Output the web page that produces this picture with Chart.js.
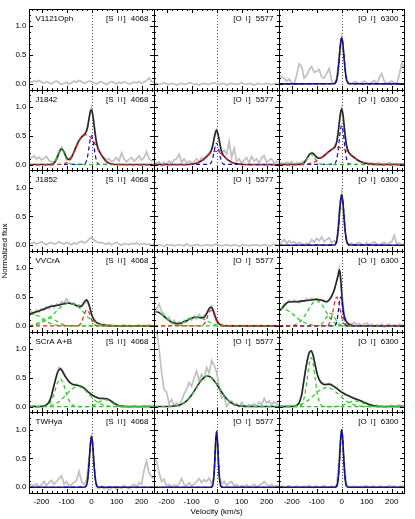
<!DOCTYPE html>
<html><head><meta charset="utf-8">
<script src="https://cdn.jsdelivr.net/npm/chart.js@4.4.0/dist/chart.umd.min.js"></script>
<style>html,body{margin:0;padding:0;background:#fff;}canvas{display:block;}</style>
</head><body><canvas id="c" width="415" height="519"></canvas>
<script>
// ---------------- DATA ----------------
const objectNames = ['V1121Oph', 'J1842', 'J1852', 'VVCrA', 'SCrA A+B', 'TWHya'];
const lineIons   = ['S', 'O', 'O'];
const lineStages = ['II', 'I', 'I'];
const lineWaves  = ['4068', '5577', '6300'];
const xTickValues = [-200, -100, 0, 100, 200];
const yTickValues = [0, 0.5, 1.0];

const velGrid = [-250,-240,-230,-220,-210,-200,-190,-180,-170,-160,
 -150,-140,-130,-120,-110,-100,-90,-80,-70,-60,
 -50,-40,-30,-20,-10,0,10,20,30,40,
 50,60,70,80,90,100,110,120,130,140,
 150,160,170,180,190,200,210,220,230,240,250];

// observed spectra (grey), on velGrid
const obs_V1121Oph_SII = [0.04,0.03,0.05,0.04,0.06,0.03,0.01,0.04,0.02,0.00, 0.03,0.05,0.02,-0.01,0.01,0.03,0.00,0.02,0.05,0.03, 0.06,0.04,0.01,0.03,0.05,0.04,0.02,0.00,0.03,0.04, 0.01,-0.01,0.02,0.04,0.02,0.00,0.03,0.01,0.04,0.02, 0.00,0.01,0.03,0.02,0.04,0.01,0.03,0.06,0.10,0.04, 0.03];
const obs_V1121Oph_5577 = [0.00,0.01,-0.01,0.00,0.02,0.00,-0.01,0.01,0.00,-0.02, 0.00,0.01,-0.01,0.00,0.02,0.01,-0.01,0.00,-0.02,0.00, 0.01,0.00,-0.01,0.01,0.02,0.00,-0.01,0.00,0.01,-0.02, 0.00,0.01,0.00,-0.01,0.00,0.02,0.00,-0.01,0.01,0.00, -0.02,0.00,0.01,-0.01,0.00,0.01,0.00,-0.01,0.00,0.01, 0.00];
const obs_V1121Oph_6300 = [0.15,0.12,0.10,0.05,0.08,0.02,0.00,0.15,0.35,0.30, 0.10,0.15,0.25,0.30,0.20,0.22,0.25,0.12,0.10,0.18, 0.27,0.05,0.00,0.10,0.50,0.80,0.45,0.05,0.02,0.00, 0.04,0.03,0.00,0.02,0.05,0.02,0.00,0.03,0.06,0.00, 0.10,0.18,0.05,0.00,0.03,0.05,0.02,0.00,0.15,0.36, 0.30];
const obs_J1842_SII = [0.10,0.12,0.15,0.10,0.13,0.08,0.11,0.14,0.07,0.05, 0.04,0.12,0.24,0.30,0.20,0.12,0.10,0.15,0.22,0.30, 0.40,0.47,0.52,0.58,0.80,0.98,0.72,0.40,0.25,0.18, 0.12,0.08,0.10,0.05,0.08,0.12,0.06,0.20,0.10,0.05, 0.09,0.12,0.06,0.10,0.15,0.08,0.12,0.22,0.10,0.06, 0.08];
const obs_J1842_5577 = [0.04,0.02,0.05,-0.02,0.04,0.00,0.06,0.02,0.08,0.10, 0.18,0.04,0.10,0.03,0.06,0.02,0.05,0.10,0.04,0.12, 0.08,0.15,0.20,0.25,0.45,0.60,0.42,0.20,0.25,0.18, 0.40,0.12,0.28,0.05,0.10,0.02,0.08,0.12,0.03,0.14, 0.06,0.10,0.02,0.12,0.15,0.04,0.08,0.10,0.03,0.06, 0.04];
const obs_J1842_6300 = [0.02,0.03,0.01,0.04,0.02,0.05,0.00,0.03,0.02,0.04, 0.06,0.10,0.18,0.21,0.18,0.14,0.12,0.12,0.15,0.19, 0.23,0.26,0.30,0.40,0.70,0.97,0.65,0.30,0.20,0.15, 0.14,0.08,0.06,0.05,0.03,0.04,0.02,0.03,0.01,0.02, 0.03,0.00,0.02,0.01,0.03,0.02,0.01,0.02,0.00,0.02, 0.01];
const obs_J1852_SII = [0.04,0.03,0.05,0.02,0.04,0.06,0.03,0.01,0.04,0.05, 0.02,0.03,0.06,0.04,0.02,0.05,0.03,0.01,0.04,0.02, 0.05,0.07,0.04,0.06,0.10,0.14,0.09,0.06,0.04,0.05, 0.03,0.02,0.04,0.01,0.03,0.05,0.02,0.00,0.03,0.02, 0.01,0.03,0.02,0.04,0.01,0.02,0.03,0.01,0.02,0.00, 0.02];
const obs_J1852_5577 = [0.00,-0.01,0.01,0.00,-0.02,0.01,0.00,0.01,-0.01,0.00, 0.01,0.00,-0.01,0.02,0.00,-0.01,0.00,0.01,0.00,-0.01, 0.00,0.01,0.00,-0.01,0.01,0.02,0.00,-0.01,0.00,0.01, 0.00,-0.01,0.01,0.00,-0.02,0.00,0.01,0.00,-0.01,0.01, 0.00,0.01,-0.01,0.00,0.01,0.00,-0.01,0.00,0.02,0.00, 0.01];
const obs_J1852_6300 = [0.02,0.05,0.10,0.03,0.08,0.04,0.06,0.02,0.05,0.03, 0.00,0.04,0.02,0.10,0.05,0.12,0.08,0.14,0.06,0.10, 0.13,0.04,0.08,0.05,0.60,0.92,0.35,0.05,0.02,0.04, 0.00,0.03,0.05,0.02,0.00,0.04,0.01,0.03,0.06,0.02, 0.00,0.03,0.05,0.01,0.04,0.06,0.17,0.02,0.04,0.00, 0.03];
const obs_VVCrA_SII = [0.22,0.25,0.20,0.28,0.24,0.30,0.27,0.33,0.30,0.36, 0.32,0.38,0.35,0.42,0.40,0.47,0.41,0.38,0.40,0.35, 0.37,0.33,0.38,0.42,0.36,0.20,0.12,0.06,0.05,0.02, 0.03,0.00,0.01,0.02,0.00,0.01,-0.01,0.00,0.02,0.00, 0.01,-0.01,0.01,0.00,0.02,0.00,0.01,0.00,0.02,0.00, 0.01];
const obs_VVCrA_5577 = [0.28,0.30,0.38,0.25,0.20,0.12,0.15,0.05,0.10,0.02, 0.07,0.00,0.10,0.06,0.14,0.10,0.17,0.12,0.20,0.15, 0.18,0.22,0.30,0.35,0.25,0.12,0.04,0.02,0.00,0.01, 0.00,0.01,0.00,-0.01,0.01,0.00,0.01,0.00,-0.01,0.01, 0.00,0.01,0.00,0.01,-0.01,0.00,0.01,0.00,0.01,0.00, 0.00];
const obs_VVCrA_6300 = [0.28,0.30,0.38,0.40,0.44,0.41,0.45,0.42,0.40,0.44, 0.43,0.47,0.45,0.48,0.46,0.47,0.44,0.46,0.42,0.41, 0.45,0.50,0.62,0.78,1.00,0.62,0.20,0.08,0.05,0.03, 0.06,0.02,0.04,0.00,0.03,0.05,0.01,0.03,-0.01,0.02, 0.00,0.03,-0.02,0.01,0.03,0.00,0.02,-0.01,0.03,0.01, 0.02];
const obs_SCrA_SII = [0.01,0.00,0.01,-0.01,0.00,0.01,0.00,0.03,0.08,0.20, 0.38,0.55,0.68,0.66,0.57,0.50,0.43,0.40,0.38,0.39, 0.36,0.34,0.33,0.27,0.25,0.20,0.19,0.15,0.14,0.15, 0.13,0.14,0.11,0.10,0.05,0.04,0.01,0.00,0.01,0.00, -0.01,0.00,0.01,0.00,-0.01,0.00,0.01,0.00,0.01,0.00, 0.01];
const obs_SCrA_5577 = [1.40,1.35,1.00,0.60,0.30,0.25,0.05,0.12,0.02,0.06, 0.00,0.10,0.22,0.30,0.42,0.35,0.50,0.62,0.45,0.56, 0.48,0.68,0.58,0.80,0.72,0.60,0.35,0.15,0.18,0.00, 0.06,0.10,0.02,0.05,0.00,0.07,0.02,0.00,0.04,0.01, 0.05,0.00,0.08,0.03,0.14,0.06,0.10,0.03,0.08,0.05, 0.04];
const obs_SCrA_6300 = [0.00,0.01,-0.01,0.02,0.00,0.01,0.00,0.03,0.06,0.22, 0.50,0.73,0.95,0.96,0.83,0.60,0.47,0.42,0.40,0.39, 0.40,0.37,0.35,0.33,0.28,0.26,0.23,0.20,0.20,0.16, 0.16,0.13,0.11,0.10,0.07,0.06,0.03,0.03,0.01,0.02, 0.00,0.01,-0.01,0.00,0.01,0.02,0.00,0.01,0.03,0.01, 0.00];
const obs_TWHya_SII = [0.03,0.05,0.02,0.06,0.00,0.04,0.10,0.03,0.08,0.12, 0.05,0.10,0.15,0.20,0.05,0.10,0.02,0.05,0.08,0.12, 0.28,0.10,0.05,0.12,0.50,0.92,0.35,0.00,-0.02,0.02, -0.03,0.00,-0.05,-0.02,0.01,-0.04,0.00,-0.02,0.03,0.00, -0.03,0.02,0.05,0.00,0.08,0.05,0.30,0.45,0.25,0.18, 0.15];
const obs_TWHya_5577 = [0.50,0.45,0.25,0.10,0.14,0.02,0.05,0.00,0.04,0.02, 0.06,0.15,0.05,0.02,0.08,0.03,0.05,0.10,0.15,0.08, 0.13,0.10,0.16,0.05,0.20,0.97,0.20,0.05,0.10,0.03, 0.08,0.10,0.02,0.05,0.00,0.03,0.01,0.04,0.00,0.02, 0.05,0.00,0.03,0.06,0.10,0.04,0.02,0.05,0.01,0.03, 0.02];
const obs_TWHya_6300 = [0.01,0.02,0.00,0.01,0.03,0.01,0.00,0.02,0.01,0.00, 0.02,0.01,0.03,0.00,0.01,0.02,0.00,0.01,0.03,0.01, 0.00,0.02,0.01,0.03,0.55,1.00,0.45,0.02,0.01,0.00, 0.02,0.01,0.00,0.02,0.01,0.03,0.00,0.01,0.02,0.00, 0.01,0.02,0.00,0.01,0.03,0.01,0.02,0.00,0.01,0.02, 0.01];

// narrow (low-velocity) profiles, on narrowVel
const narrowVel = [-250,-30,-24,-20,-16,-12,-8,-4,0,4,8,12,16,20,24,30,250];
const fit_V1121Oph_6300 = [0,0.003,0.023,0.068,0.165,0.329,0.539,0.725,0.80,0.725,0.539,0.329,0.165,0.068,0.023,0.003,0];
const fit_J1852_6300    = [0,0.003,0.025,0.074,0.179,0.358,0.586,0.788,0.87,0.788,0.586,0.358,0.179,0.074,0.025,0.003,0];
const fit_TWHya_SII     = [0,0.001,0.010,0.039,0.119,0.286,0.534,0.776,0.88,0.776,0.534,0.286,0.119,0.039,0.010,0.001,0];
const fit_TWHya_5577    = [0,0,0,0.004,0.027,0.131,0.399,0.776,0.97,0.776,0.399,0.131,0.027,0.004,0,0,0];
const fit_TWHya_6300    = [0,0,0.003,0.017,0.073,0.230,0.520,0.850,1.00,0.850,0.520,0.230,0.073,0.017,0.003,0,0];
const blue_J1842_SII    = [0,0.006,0.028,0.068,0.139,0.244,0.363,0.462,0.50,0.462,0.363,0.244,0.139,0.068,0.028,0.006,0];
const blue_J1842_5577   = [0,0.004,0.021,0.050,0.103,0.180,0.269,0.342,0.37,0.342,0.269,0.180,0.103,0.050,0.021,0.004,0];
const blue_J1842_6300   = [0,0.007,0.038,0.092,0.189,0.331,0.494,0.628,0.68,0.628,0.494,0.331,0.189,0.092,0.038,0.007,0];

// fitted curves as [velocity, flux] pairs
const fit_J1842_SII = [[-250,0],[-170,0.001],[-160,0.004],[-150,0.026],[-140,0.09],[-130,0.2],[-120,0.27],[-110,0.22],[-100,0.12],[-90,0.086],[-80,0.124],[-70,0.22],[-60,0.33],[-50,0.42],[-40,0.48],[-30,0.516],[-25,0.54],[-20,0.588],[-15,0.665],[-10,0.8],[-5,0.92],[0,0.95],[5,0.86],[10,0.69],[15,0.51],[20,0.378],[25,0.29],[30,0.236],[40,0.16],[50,0.1],[60,0.05],[70,0.025],[80,0.01],[100,0],[250,0]];
const green_J1842_SII = [[-250,0],[-170,0],[-160,0.004],[-150,0.026],[-140,0.09],[-130,0.2],[-120,0.26],[-110,0.2],[-100,0.09],[-90,0.026],[-80,0.004],[-70,0],[250,0]];
const red_J1842_SII = [[-250,0],[-150,0],[-120,0.01],[-110,0.02],[-100,0.03],[-90,0.06],[-80,0.12],[-70,0.22],[-60,0.33],[-50,0.42],[-40,0.48],[-30,0.51],[-20,0.52],[-10,0.5],[0,0.45],[10,0.39],[20,0.31],[30,0.23],[40,0.16],[50,0.1],[60,0.05],[70,0.025],[80,0.01],[100,0],[250,0]];

const fit_J1842_5577 = [[-250,0],[-125,0],[-105,0.004],[-85,0.017],[-75,0.03],[-65,0.053],[-55,0.083],[-45,0.12],[-40,0.14],[-30,0.179],[-25,0.211],[-20,0.26],[-15,0.34],[-10,0.452],[-5,0.555],[0,0.597],[5,0.545],[10,0.435],[15,0.315],[20,0.225],[25,0.176],[30,0.144],[40,0.1],[50,0.068],[60,0.04],[70,0.023],[80,0.012],[100,0.003],[120,0],[250,0]];
const red_J1842_5577 = [[-250,0],[-125,0],[-105,0.004],[-85,0.017],[-75,0.03],[-65,0.053],[-55,0.083],[-45,0.12],[-35,0.16],[-25,0.195],[-15,0.22],[-5,0.23],[5,0.22],[15,0.195],[25,0.16],[35,0.12],[45,0.083],[55,0.053],[65,0.03],[75,0.017],[95,0.004],[115,0],[250,0]];

const fit_J1842_6300 = [[-250,0],[-175,0.002],[-160,0.008],[-150,0.03],[-140,0.094],[-130,0.166],[-122,0.195],[-115,0.196],[-105,0.147],[-95,0.111],[-85,0.113],[-75,0.138],[-65,0.174],[-55,0.212],[-45,0.247],[-35,0.275],[-30,0.29],[-25,0.324],[-20,0.39],[-15,0.52],[-10,0.71],[-5,0.894],[0,0.965],[5,0.875],[10,0.672],[15,0.467],[20,0.322],[25,0.242],[30,0.2],[40,0.156],[50,0.12],[60,0.09],[70,0.063],[80,0.043],[90,0.027],[105,0.013],[125,0.004],[145,0.001],[250,0]];
const green_J1842_6300 = [[-250,0],[-170,0.001],[-162,0.006],[-152,0.024],[-142,0.074],[-132,0.144],[-122,0.18],[-112,0.144],[-102,0.074],[-92,0.024],[-82,0.006],[-74,0.001],[250,0]];
const red_J1842_6300 = [[-250,0],[-175,0.001],[-155,0.004],[-135,0.013],[-115,0.034],[-105,0.052],[-95,0.075],[-85,0.104],[-75,0.138],[-65,0.174],[-55,0.212],[-45,0.247],[-35,0.275],[-25,0.294],[-15,0.3],[-5,0.294],[5,0.275],[15,0.247],[25,0.212],[35,0.174],[45,0.138],[55,0.104],[65,0.075],[75,0.052],[85,0.034],[105,0.013],[125,0.004],[145,0.001],[250,0]];

const fit_VVCrA_SII = [[-250,0.195],[-240,0.216],[-230,0.232],[-220,0.245],[-210,0.259],[-200,0.274],[-190,0.293],[-180,0.312],[-170,0.328],[-160,0.34],[-150,0.348],[-140,0.355],[-130,0.364],[-120,0.374],[-110,0.385],[-100,0.393],[-90,0.394],[-80,0.385],[-70,0.37],[-60,0.352],[-50,0.335],[-40,0.345],[-30,0.408],[-25,0.436],[-20,0.451],[-15,0.427],[-10,0.367],[-5,0.288],[0,0.209],[5,0.147],[10,0.102],[20,0.057],[30,0.036],[40,0.024],[50,0.015],[60,0.009],[70,0.005],[80,0.003],[100,0.001],[120,0],[250,0]];
const greenA_VVCrA_SII = [[-250,0.186],[-240,0.198],[-230,0.198],[-220,0.186],[-210,0.165],[-200,0.136],[-190,0.106],[-180,0.078],[-170,0.053],[-160,0.034],[-150,0.021],[-140,0.012],[-130,0.006],[-120,0.003],[-110,0.001],[-100,0],[250,0]];
const greenB_VVCrA_SII = [[-250,0.004],[-240,0.009],[-230,0.019],[-220,0.035],[-210,0.058],[-200,0.085],[-190,0.112],[-180,0.132],[-170,0.14],[-160,0.132],[-150,0.112],[-140,0.085],[-130,0.058],[-120,0.035],[-110,0.019],[-100,0.009],[-90,0.004],[-80,0.001],[-70,0],[250,0]];
const greenC_VVCrA_SII = [[-250,0.005],[-240,0.009],[-230,0.015],[-220,0.024],[-210,0.036],[-200,0.053],[-190,0.075],[-180,0.102],[-170,0.135],[-160,0.174],[-150,0.215],[-140,0.258],[-130,0.3],[-120,0.336],[-110,0.365],[-100,0.384],[-90,0.39],[-80,0.384],[-70,0.37],[-60,0.35],[-50,0.32],[-40,0.278],[-30,0.225],[-20,0.174],[-10,0.135],[0,0.102],[10,0.075],[20,0.053],[30,0.036],[40,0.024],[50,0.015],[60,0.009],[70,0.005],[80,0.003],[100,0.001],[120,0],[250,0]];
const red_VVCrA_SII = [[-250,0],[-70,0],[-60,0.0015],[-50,0.013],[-40,0.067],[-30,0.183],[-25,0.242],[-20,0.277],[-15,0.273],[-10,0.232],[-5,0.17],[0,0.107],[5,0.059],[10,0.027],[20,0.004],[30,0],[250,0]];

const fit_VVCrA_5577 = [[-250,0.25],[-240,0.248],[-230,0.231],[-220,0.201],[-210,0.164],[-200,0.126],[-190,0.091],[-180,0.065],[-170,0.048],[-160,0.041],[-150,0.043],[-140,0.054],[-130,0.071],[-120,0.092],[-110,0.113],[-100,0.132],[-90,0.145],[-80,0.15],[-70,0.146],[-60,0.139],[-50,0.149],[-40,0.209],[-35,0.255],[-30,0.298],[-25,0.322],[-20,0.316],[-15,0.278],[-10,0.219],[-5,0.155],[0,0.099],[10,0.032],[20,0.01],[30,0.003],[40,0.002],[60,0],[250,0]];
const greenA_VVCrA_5577 = [[-250,0.25],[-240,0.248],[-230,0.231],[-220,0.201],[-210,0.164],[-200,0.124],[-190,0.088],[-180,0.058],[-170,0.036],[-160,0.021],[-150,0.011],[-140,0.005],[-130,0.002],[-120,0.001],[-110,0],[250,0]];
const greenB_VVCrA_5577 = [[-250,0],[-210,0],[-200,0.002],[-190,0.003],[-180,0.007],[-170,0.012],[-160,0.02],[-150,0.032],[-140,0.049],[-130,0.069],[-120,0.091],[-110,0.113],[-100,0.132],[-90,0.145],[-80,0.15],[-70,0.145],[-60,0.132],[-50,0.113],[-40,0.091],[-30,0.069],[-20,0.049],[-10,0.032],[0,0.02],[10,0.012],[20,0.007],[30,0.003],[40,0.002],[50,0.001],[60,0],[250,0]];
const red_VVCrA_5577 = [[-250,0],[-80,0],[-70,0.001],[-60,0.007],[-50,0.036],[-40,0.118],[-35,0.175],[-30,0.229],[-25,0.264],[-20,0.267],[-15,0.238],[-10,0.187],[-5,0.129],[0,0.079],[10,0.02],[20,0.003],[30,0],[250,0]];

const fit_VVCrA_6300 = [[-250,0.26],[-242,0.29],[-230,0.35],[-215,0.41],[-200,0.42],[-180,0.42],[-160,0.43],[-140,0.44],[-120,0.45],[-100,0.46],[-85,0.45],[-70,0.43],[-60,0.42],[-50,0.45],[-40,0.52],[-30,0.62],[-20,0.78],[-13,0.9],[-10,0.97],[-6,0.92],[-2,0.7],[2,0.45],[6,0.275],[12,0.14],[22,0.05],[35,0.015],[50,0.003],[70,0],[250,0]];
const greenA_VVCrA_6300 = [[-250,0.298],[-240,0.3],[-220,0.277],[-200,0.218],[-180,0.146],[-160,0.083],[-140,0.041],[-120,0.017],[-100,0.006],[-80,0.002],[-60,0],[250,0]];
const greenB_VVCrA_6300 = [[-250,0],[-200,0.007],[-180,0.032],[-160,0.1],[-140,0.229],[-120,0.374],[-100,0.44],[-80,0.374],[-60,0.229],[-40,0.1],[-20,0.032],[0,0.0075],[20,0.001],[40,0],[250,0]];
const greenC_VVCrA_6300 = [[-250,0],[-110,0],[-100,0.002],[-90,0.01],[-80,0.033],[-70,0.084],[-60,0.156],[-50,0.212],[-45,0.22],[-40,0.212],[-30,0.156],[-20,0.084],[-10,0.033],[0,0.01],[10,0.002],[20,0],[250,0]];
const red_VVCrA_6300 = [[-250,0],[-70,0],[-60,0.002],[-50,0.035],[-40,0.153],[-35,0.257],[-30,0.372],[-25,0.464],[-20,0.5],[-15,0.464],[-10,0.372],[-5,0.257],[0,0.153],[5,0.079],[10,0.035],[20,0.002],[30,0],[250,0]];
const blue_VVCrA_6300 = [[-250,0],[-36,0],[-30,0.0025],[-24,0.022],[-19,0.086],[-14,0.229],[-9,0.41],[-4,0.5],[1,0.41],[6,0.229],[11,0.086],[16,0.022],[22,0.0025],[30,0],[250,0]];

const fit_SCrA_SII = [[-250,0],[-200,0],[-185,0.02],[-175,0.05],[-165,0.12],[-155,0.28],[-145,0.45],[-135,0.6],[-125,0.655],[-115,0.6],[-105,0.52],[-95,0.46],[-85,0.41],[-75,0.385],[-65,0.375],[-50,0.36],[-40,0.35],[-30,0.32],[-20,0.28],[-10,0.24],[0,0.21],[10,0.18],[20,0.16],[30,0.145],[40,0.14],[50,0.14],[60,0.135],[70,0.12],[80,0.09],[90,0.06],[100,0.035],[110,0.015],[125,0.003],[140,0],[250,0]];
const greenA_SCrA_SII = [[-250,0],[-195,0],[-185,0.005],[-175,0.021],[-165,0.065],[-155,0.156],[-145,0.291],[-135,0.423],[-125,0.48],[-115,0.423],[-105,0.291],[-95,0.156],[-85,0.065],[-75,0.021],[-65,0.005],[-55,0.001],[-45,0],[250,0]];
const greenB_SCrA_SII = [[-250,0],[-220,0],[-200,0.002],[-180,0.007],[-160,0.023],[-140,0.059],[-120,0.123],[-100,0.212],[-80,0.3],[-55,0.35],[-30,0.3],[-10,0.212],[10,0.123],[30,0.059],[50,0.023],[70,0.007],[90,0.002],[110,0],[250,0]];
const greenC_SCrA_SII = [[-250,0],[-15,0],[0,0.011],[15,0.033],[25,0.058],[35,0.087],[45,0.111],[55,0.12],[65,0.111],[75,0.087],[85,0.058],[95,0.033],[110,0.011],[125,0.002],[140,0],[250,0]];

const fit_SCrA_5577 = [[-250,0],[-220,0],[-200,0.001],[-180,0.004],[-160,0.014],[-140,0.041],[-120,0.1],[-100,0.201],[-80,0.336],[-60,0.463],[-36,0.53],[-20,0.499],[0,0.39],[20,0.253],[40,0.135],[60,0.06],[80,0.022],[100,0.007],[120,0.002],[140,0],[250,0]];

const fit_SCrA_6300 = [[-250,0],[-200,0],[-190,0.005],[-180,0.02],[-170,0.07],[-160,0.2],[-150,0.48],[-140,0.75],[-130,0.93],[-122,0.97],[-115,0.9],[-105,0.7],[-95,0.52],[-85,0.43],[-75,0.39],[-65,0.38],[-55,0.385],[-45,0.385],[-35,0.36],[-25,0.33],[-15,0.3],[-5,0.265],[5,0.235],[15,0.21],[30,0.18],[45,0.15],[60,0.125],[75,0.1],[90,0.07],[105,0.045],[120,0.022],[135,0.008],[150,0.002],[165,0],[250,0]];
const greenA_SCrA_6300 = [[-250,0],[-180,0],[-170,0.005],[-160,0.034],[-150,0.149],[-140,0.414],[-130,0.738],[-122,0.85],[-115,0.762],[-105,0.447],[-95,0.168],[-85,0.041],[-75,0.006],[-65,0],[250,0]];
const greenB_SCrA_6300 = [[-250,0],[-220,0],[-200,0.007],[-180,0.019],[-160,0.045],[-140,0.092],[-120,0.161],[-100,0.24],[-80,0.305],[-60,0.33],[-40,0.305],[-20,0.24],[0,0.161],[20,0.092],[40,0.045],[60,0.019],[80,0.007],[100,0.002],[120,0],[250,0]];
const greenC_SCrA_6300 = [[-250,0],[-25,0],[-10,0.01],[5,0.025],[20,0.051],[35,0.08],[45,0.095],[55,0.1],[65,0.095],[75,0.08],[90,0.051],[105,0.025],[120,0.01],[140,0.002],[160,0],[250,0]];

// ---------------- BUILD ----------------
const FAM = "'Liberation Sans', Arial, Helvetica, sans-serif";
const COLORS = {gray:'#c0c0c0', black:'#262626', blue:'#0000ff', red:'#ff1a1a', green:'#1fcc1f'};
const onGrid = (vs, fs) => vs.map((v, i) => ({x: v, y: fs[i]}));
const fromPairs = (p) => p.map(q => ({x: q[0], y: q[1]}));

const datasets = [];
function addObs(r, c, arr) {
  datasets.push({data: onGrid(velGrid, arr), xAxisID: 'x' + c, yAxisID: 'y' + r,
    borderColor: COLORS.gray, borderWidth: 1.7, pointRadius: 0, tension: 0, order: 3, clip: 0});
}
function addFit(r, c, data) {
  datasets.push({data, xAxisID: 'x' + c, yAxisID: 'y' + r, borderColor: COLORS.black,
    borderWidth: 1.6, pointRadius: 0, cubicInterpolationMode: 'monotone', order: 2, clip: 0});
}
function addComp(r, c, data, col) {
  datasets.push({data, xAxisID: 'x' + c, yAxisID: 'y' + r, borderColor: COLORS[col],
    borderWidth: 1.2, borderDash: [4, 3], pointRadius: 0, cubicInterpolationMode: 'monotone', order: 1, clip: 0});
}

// row 0 V1121Oph
addObs(0, 0, obs_V1121Oph_SII);
addObs(0, 1, obs_V1121Oph_5577);
addObs(0, 2, obs_V1121Oph_6300);
addFit(0, 2, onGrid(narrowVel, fit_V1121Oph_6300));
addComp(0, 2, onGrid(narrowVel, fit_V1121Oph_6300), 'blue');
// row 1 J1842
addObs(1, 0, obs_J1842_SII);
addFit(1, 0, fromPairs(fit_J1842_SII));
addComp(1, 0, fromPairs(red_J1842_SII), 'red');
addComp(1, 0, fromPairs(green_J1842_SII), 'green');
addComp(1, 0, onGrid(narrowVel, blue_J1842_SII), 'blue');
addObs(1, 1, obs_J1842_5577);
addFit(1, 1, fromPairs(fit_J1842_5577));
addComp(1, 1, fromPairs(red_J1842_5577), 'red');
addComp(1, 1, onGrid(narrowVel, blue_J1842_5577), 'blue');
addObs(1, 2, obs_J1842_6300);
addFit(1, 2, fromPairs(fit_J1842_6300));
addComp(1, 2, fromPairs(red_J1842_6300), 'red');
addComp(1, 2, fromPairs(green_J1842_6300), 'green');
addComp(1, 2, onGrid(narrowVel, blue_J1842_6300), 'blue');
// row 2 J1852
addObs(2, 0, obs_J1852_SII);
addObs(2, 1, obs_J1852_5577);
addObs(2, 2, obs_J1852_6300);
addFit(2, 2, onGrid(narrowVel, fit_J1852_6300));
addComp(2, 2, onGrid(narrowVel, fit_J1852_6300), 'blue');
// row 3 VVCrA
addObs(3, 0, obs_VVCrA_SII);
addFit(3, 0, fromPairs(fit_VVCrA_SII));
addComp(3, 0, fromPairs(red_VVCrA_SII), 'red');
addComp(3, 0, fromPairs(greenA_VVCrA_SII), 'green');
addComp(3, 0, fromPairs(greenB_VVCrA_SII), 'green');
addComp(3, 0, fromPairs(greenC_VVCrA_SII), 'green');
addObs(3, 1, obs_VVCrA_5577);
addFit(3, 1, fromPairs(fit_VVCrA_5577));
addComp(3, 1, fromPairs(red_VVCrA_5577), 'red');
addComp(3, 1, fromPairs(greenA_VVCrA_5577), 'green');
addComp(3, 1, fromPairs(greenB_VVCrA_5577), 'green');
addObs(3, 2, obs_VVCrA_6300);
addFit(3, 2, fromPairs(fit_VVCrA_6300));
addComp(3, 2, fromPairs(red_VVCrA_6300), 'red');
addComp(3, 2, fromPairs(blue_VVCrA_6300), 'blue');
addComp(3, 2, fromPairs(greenA_VVCrA_6300), 'green');
addComp(3, 2, fromPairs(greenB_VVCrA_6300), 'green');
addComp(3, 2, fromPairs(greenC_VVCrA_6300), 'green');
// row 4 SCrA A+B
addObs(4, 0, obs_SCrA_SII);
addFit(4, 0, fromPairs(fit_SCrA_SII));
addComp(4, 0, fromPairs(greenA_SCrA_SII), 'green');
addComp(4, 0, fromPairs(greenB_SCrA_SII), 'green');
addComp(4, 0, fromPairs(greenC_SCrA_SII), 'green');
addObs(4, 1, obs_SCrA_5577);
addFit(4, 1, fromPairs(fit_SCrA_5577));
addComp(4, 1, fromPairs(fit_SCrA_5577), 'green');
addObs(4, 2, obs_SCrA_6300);
addFit(4, 2, fromPairs(fit_SCrA_6300));
addComp(4, 2, fromPairs(greenA_SCrA_6300), 'green');
addComp(4, 2, fromPairs(greenB_SCrA_6300), 'green');
addComp(4, 2, fromPairs(greenC_SCrA_6300), 'green');
// row 5 TWHya
addObs(5, 0, obs_TWHya_SII);
addFit(5, 0, onGrid(narrowVel, fit_TWHya_SII));
addComp(5, 0, onGrid(narrowVel, fit_TWHya_SII), 'blue');
addObs(5, 1, obs_TWHya_5577);
addFit(5, 1, onGrid(narrowVel, fit_TWHya_5577));
addComp(5, 1, onGrid(narrowVel, fit_TWHya_5577), 'blue');
addObs(5, 2, obs_TWHya_6300);
addFit(5, 2, onGrid(narrowVel, fit_TWHya_6300));
addComp(5, 2, onGrid(narrowVel, fit_TWHya_6300), 'blue');

// ---------------- SCALES ----------------
const tickFont = {family: FAM, size: 8};
const scales = {
  yTitle: {type: 'linear', axis: 'y', position: 'left', weight: 100, min: 0, max: 1,
    ticks: {display: false}, grid: {display: false, drawTicks: false}, border: {display: false},
    title: {display: true, text: 'Normalized flux', color: '#000', font: {family: FAM, size: 8}, padding: {top: 0, bottom: 0}},
    afterFit: s => { s.width = 11; }}
};
for (let r = 0; r < 6; r++) {
  scales['y' + r] = {type: 'linear', axis: 'y', position: 'left', stack: 'rows', stackWeight: 1, weight: 10 - r,
    min: -0.1, max: 1.3,
    afterBuildTicks: s => { s.ticks = yTickValues.map(v => ({value: v})); },
    ticks: {callback: v => Number(v).toFixed(1), color: '#000', font: tickFont, padding: 2.5, autoSkip: false},
    grid: {display: false, drawTicks: false, tickLength: 0}, border: {display: false},
    afterFit: s => { s.width = 18; }};
}
for (let c = 0; c < 3; c++) {
  scales['x' + c] = {type: 'linear', axis: 'x', position: 'bottom', stack: 'cols', stackWeight: 1, weight: c,
    min: -250, max: 250,
    afterBuildTicks: s => { s.ticks = xTickValues.map(v => ({value: v})); },
    ticks: {callback: v => String(v), color: '#000', font: tickFont, padding: 4, autoSkip: false, maxRotation: 0},
    grid: {display: false, drawTicks: false, tickLength: 0}, border: {display: false},
    title: {display: c === 1, text: 'Velocity (km/s)', color: '#000', font: {family: FAM, size: 8}, padding: {top: 0, bottom: 2}},
    afterFit: s => { s.height = 26; }};
}

// ---------------- PLUGINS ----------------
function panelBox(chart, r, c) {
  const xs = chart.scales['x' + c], ys = chart.scales['y' + r];
  return {xs, ys, L: Math.round(xs.left), R: Math.round(xs.right), T: Math.round(ys.top), B: Math.round(ys.bottom)};
}
const zeroLinePlugin = {
  id: 'zeroLine',
  beforeDatasetsDraw(chart) {
    const ctx = chart.ctx;
    ctx.save();
    ctx.strokeStyle = '#555'; ctx.lineWidth = 1; ctx.setLineDash([1, 2]);
    for (let r = 0; r < 6; r++) for (let c = 0; c < 3; c++) {
      const {xs, T, B} = panelBox(chart, r, c);
      const x0 = Math.round(xs.getPixelForValue(0)) + 0.5;
      ctx.beginPath(); ctx.moveTo(x0, T); ctx.lineTo(x0, B); ctx.stroke();
    }
    ctx.restore();
  }
};
const framePlugin = {
  id: 'frames',
  afterDatasetsDraw(chart) {
    const ctx = chart.ctx;
    ctx.save();
    ctx.strokeStyle = '#000'; ctx.lineWidth = 1; ctx.setLineDash([]);
    for (let r = 0; r < 6; r++) for (let c = 0; c < 3; c++) {
      const {xs, ys, L, R, T, B} = panelBox(chart, r, c);
      ctx.strokeRect(L + 0.5, T + 0.5, R - L, B - T);
      ctx.beginPath();
      for (let v = -240; v <= 240; v += 20) {
        const px = Math.round(xs.getPixelForValue(v)) + 0.5;
        const len = (v % 100 === 0) ? 4 : 2;
        ctx.moveTo(px, B); ctx.lineTo(px, B - len);
        ctx.moveTo(px, T); ctx.lineTo(px, T + len);
      }
      for (let k = -1; k <= 13; k++) {
        const v = k / 10;
        const py = Math.round(ys.getPixelForValue(v)) + 0.5;
        if (py <= T + 1 || py >= B - 1) continue;
        const len = (k % 5 === 0) ? 4 : 2;
        ctx.moveTo(L, py); ctx.lineTo(L + len, py);
        ctx.moveTo(R, py); ctx.lineTo(R - len, py);
      }
      ctx.stroke();
      // labels
      ctx.fillStyle = '#000'; ctx.textBaseline = 'middle';
      const y = T + 9.5;
      ctx.font = `8px ${FAM}`;
      if (c === 0) {
        ctx.textAlign = 'left';
        ctx.fillText(objectNames[r], L + 6.5, y);
      }
      ctx.textAlign = 'right';
      let x = R - 5.5;
      ctx.fillText(lineWaves[c], x, y);
      x -= ctx.measureText(lineWaves[c]).width + 5;
      ctx.fillText(']', x, y);
      x -= ctx.measureText(']').width + 1;
      ctx.font = `6.5px ${FAM}`;
      const st = lineStages[c];
      for (let i = st.length - 1; i >= 0; i--) {
        ctx.fillText(st[i], x, y + 0.7);
        x -= ctx.measureText(st[i]).width + 1.4;
      }
      x -= 2.5;
      ctx.font = `8px ${FAM}`;
      ctx.fillText('[' + lineIons[c], x, y);
    }
    ctx.restore();
  }
};

new Chart(document.getElementById('c'), {
  type: 'line',
  data: {datasets},
  options: {
    responsive: false, animation: false, devicePixelRatio: 1, events: [],
    layout: {padding: {top: 9, right: 8, bottom: 0, left: 0}},
    plugins: {legend: {display: false}, tooltip: {enabled: false}, title: {display: false}},
    scales
  },
  plugins: [zeroLinePlugin, framePlugin]
});
</script></body></html>
